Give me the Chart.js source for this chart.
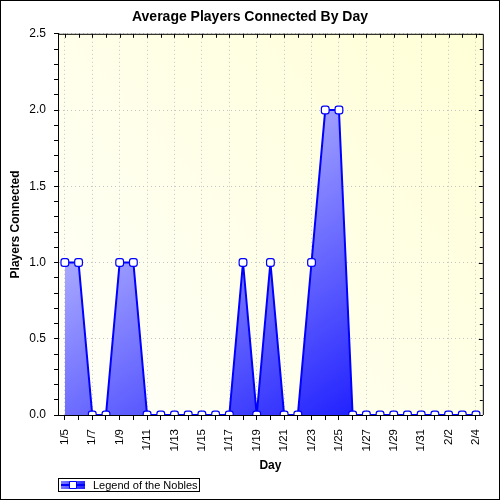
<!DOCTYPE html>
<html>
<head>
<meta charset="utf-8">
<script src="https://cdn.jsdelivr.net/npm/chart.js@4.4.0/dist/chart.umd.min.js"></script>
<style>
body{margin:0;background:#fff;}
#wrap{width:500px;height:500px;box-sizing:border-box;border:1px solid #000;}
</style>
</head>
<body>
<div id="wrap"><canvas id="myChart" width="498" height="498"></canvas></div>
<script>
// data
var days = ['1/5','1/6','1/7','1/8','1/9','1/10','1/11','1/12','1/13','1/14','1/15','1/16',
  '1/17','1/18','1/19','1/20','1/21','1/22','1/23','1/24','1/25','1/26','1/27','1/28',
  '1/29','1/30','1/31','2/1','2/2','2/3','2/4'];
var players = [1,1,0,0,1,1,0,0,0,0,0,0,0,1,0,1,0,0,1,2,2,0,0,0,0,0,0,0,0,0,0];
var seriesName = 'Legend of the Nobles';
var yTicks = [0, 0.5, 1, 1.5, 2, 2.5];

var FONT = 'Liberation Sans';

function isMajor(v){ return Math.round(v*10) % 5 === 0; }

// blue fill, light at top-left going dark to bottom-right
function areaFill(c){
  var chart = c.chart, a = chart.chartArea;
  if (!a) return '#6060ff';
  var ux = 0.56, uy = 0.83, L = 500;
  var g = chart.ctx.createLinearGradient(a.left, a.top, a.left + ux*L, a.top + uy*L);
  g.addColorStop(0, 'rgb(240,240,255)');
  g.addColorStop(0.2, 'rgb(212,212,255)');
  g.addColorStop(1, 'rgb(24,24,255)');
  return g;
}

// plot background, frame, inside ticks on top/right, legend box
var decor = {
  id: 'decor',
  beforeDraw: function(chart){
    var a = chart.chartArea, ctx = chart.ctx;
    ctx.save();
    var g = ctx.createLinearGradient(a.left, a.bottom, a.right, a.top);
    g.addColorStop(0, '#fffffa');
    g.addColorStop(1, '#ffffd6');
    ctx.fillStyle = g;
    ctx.fillRect(a.left, a.top, a.right - a.left, a.bottom - a.top);
    ctx.restore();
  },
  afterDraw: function(chart){
    var a = chart.chartArea, ctx = chart.ctx;
    var xs = chart.scales.x, ys = chart.scales.y;
    ctx.save();
    ctx.strokeStyle = '#000';
    ctx.lineWidth = 1;
    ctx.beginPath();
    ctx.moveTo(a.left, a.top + 0.5); ctx.lineTo(a.right + 0.5, a.top + 0.5);
    ctx.lineTo(a.right + 0.5, a.bottom);
    for (var i = 0; i < days.length; i++){
      var px = Math.round(xs.getPixelForTick(i)) + 0.5;
      ctx.moveTo(px, a.top); ctx.lineTo(px, a.top + 4);
    }
    ys.ticks.forEach(function(t){
      var py = Math.round(ys.getPixelForValue(t.value)) + 0.5;
      ctx.moveTo(a.right, py); ctx.lineTo(a.right - (isMajor(t.value) ? 4 : 3), py);
    });
    ctx.stroke();

    // legend
    var lx = a.left, ly = 477, lw = 141, lh = 13;
    ctx.fillStyle = '#fff';
    ctx.fillRect(lx, ly, lw, lh);
    ctx.strokeRect(lx + 0.5, ly + 0.5, lw, lh);
    var sx = lx + 3, sy = ly + 3, sw = 24, sh = 8;
    var sg = ctx.createLinearGradient(sx, sy, sx + sw, sy + sh);
    sg.addColorStop(0, '#8080ff');
    sg.addColorStop(1, '#2020ff');
    ctx.fillStyle = sg;
    ctx.fillRect(sx, sy, sw, sh);
    ctx.strokeStyle = '#0000ff';
    ctx.lineWidth = 2;
    ctx.beginPath();
    ctx.moveTo(sx, sy + sh/2); ctx.lineTo(sx + sw, sy + sh/2);
    ctx.stroke();
    ctx.fillStyle = '#fff';
    ctx.lineWidth = 1;
    ctx.beginPath();
    ctx.rect(sx + sw/2 - 4 + 0.5, sy + 0.5, 7, 7);
    ctx.fill(); ctx.stroke();
    ctx.fillStyle = '#000';
    ctx.font = '11px "' + FONT + '"';
    ctx.textBaseline = 'middle';
    ctx.fillText(chart.data.datasets[0].label, lx + 35, ly + lh/2 + 1);
    ctx.restore();
  }
};

var myChart = new Chart(document.getElementById('myChart'), {
  type: 'line',
  data: {
    labels: days,
    datasets: [{
      label: seriesName,
      data: players,
      borderColor: '#0000ff',
      borderWidth: 2,
      backgroundColor: areaFill,
      fill: 'origin',
      tension: 0,
      pointStyle: 'rectRounded',
      pointRadius: 4.5,
      pointBackgroundColor: '#fff',
      pointBorderColor: '#0000ff',
      pointBorderWidth: 1.2
    }]
  },
  options: {
    responsive: false,
    animation: false,
    devicePixelRatio: 1,
    layout: { padding: 0 },
    plugins: {
      legend: { display: false },
      tooltip: { enabled: false },
      title: {
        display: true,
        text: 'Average Players Connected By Day',
        color: '#000',
        font: { family: FONT, size: 14, weight: 'bold' },
        padding: { top: 8, bottom: 8 }
      }
    },
    scales: {
      x: {
        type: 'category',
        offset: true,
        afterFit: function(s){ s.height = 84; },
        grid: {
          color: function(c){ return c.index % 2 === 0 ? '#c4c4c4' : 'rgba(0,0,0,0)'; },
          tickColor: '#000',
          tickLength: 5,
          offset: false
        },
        border: { color: '#000', width: 1, dash: [1, 3] },
        ticks: {
          autoSkip: false,
          maxRotation: 90,
          minRotation: 90,
          padding: 9,
          color: '#000',
          font: { family: FONT, size: 11.5 },
          callback: function(v, i){ return i % 2 === 0 ? days[i] : ''; }
        },
        title: {
          display: true,
          text: 'Day',
          color: '#000',
          font: { family: FONT, size: 12, weight: 'bold' },
          padding: { top: 4, bottom: 26 }
        }
      },
      y: {
        min: yTicks[0],
        max: yTicks[yTicks.length - 1],
        afterFit: function(s){ s.width = 57; },
        grid: {
          color: function(c){ return isMajor(c.tick.value) ? '#c4c4c4' : 'rgba(0,0,0,0)'; },
          tickColor: '#000',
          tickLength: 4
        },
        border: { color: '#000', width: 1, dash: [1, 3] },
        ticks: {
          stepSize: 0.1,
          autoSkip: false,
          padding: 8,
          color: '#000',
          font: { family: FONT, size: 12 },
          callback: function(v){ return isMajor(v) ? v.toFixed(1) : ''; }
        },
        title: {
          display: true,
          text: 'Players Connected',
          color: '#000',
          font: { family: FONT, size: 12, weight: 'bold' },
          padding: { top: 7, bottom: 4 }
        }
      },
      // empty right margin so the title centres on the whole picture
      yRight: {
        position: 'right',
        min: yTicks[0],
        max: yTicks[yTicks.length - 1],
        afterFit: function(s){ s.width = 14; },
        grid: { display: false },
        border: { display: false },
        ticks: { display: false }
      }
    }
  },
  plugins: [decor]
});
</script>
</body>
</html>
